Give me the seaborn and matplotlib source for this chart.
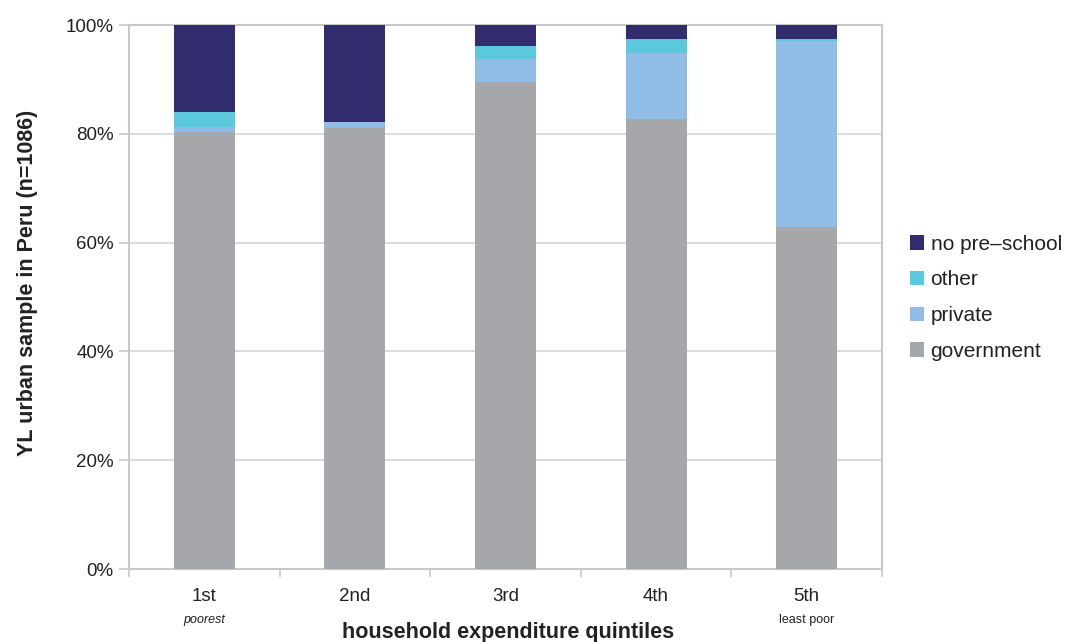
import matplotlib
matplotlib.use("Agg")
import matplotlib.pyplot as plt
import seaborn as sns
import numpy as np
import pandas as pd
from matplotlib.patches import Patch
from matplotlib.ticker import FixedLocator

quintiles = ["1st", "2nd", "3rd", "4th", "5th"]
sublabels = ["poorest", "", "", "", "least poor"]
government = [80.3, 81.0, 89.5, 82.7, 62.8]
private = [0.9, 1.2, 4.2, 12.1, 34.3]
other = [2.8, 0.0, 2.4, 2.6, 0.3]
no_preschool = [16.0, 17.8, 3.9, 2.6, 2.6]

series_names = ["government", "private", "other", "no pre\u2013school"]
colors = {"government": "#a6a7ab", "private": "#8fbde6", "other": "#5bc8dc",
          "no pre\u2013school": "#322c6e"}

sns.set_style("white")
plt.rcParams['font.family'] = ['Liberation Sans', 'DejaVu Sans']

fig = plt.figure(figsize=(10.67, 6.42), dpi=100)
ax = fig.add_axes([129/1067, 1-569/642, (882-129)/1067, (569-25)/642])

vals = [government, private, other, no_preschool]
cum = np.cumsum(np.array(vals), axis=0)
# draw from top layer down so each lower layer covers the upper one
for i in range(len(series_names) - 1, -1, -1):
    df = pd.DataFrame({"q": quintiles, "v": cum[i]})
    sns.barplot(data=df, x="q", y="v", order=quintiles, color=colors[series_names[i]],
                width=0.405, saturation=1, ax=ax, zorder=3, linewidth=0)

ax.set_ylim(0, 100)
ax.set_xlim(-0.5, 4.5)
ax.set_yticks([0, 20, 40, 60, 80, 100])
ax.set_yticklabels([f"{t}%" for t in [0, 20, 40, 60, 80, 100]], fontsize=13.5, color="#222222")
ax.yaxis.grid(True, color="#d4d4d4", linewidth=1.2, zorder=0)
ax.set_axisbelow(True)
for s in ax.spines.values():
    s.set_color("#c8c8c8")
    s.set_linewidth(1.5)
ax.tick_params(axis="y", which="major", length=7, width=1.2, color="#c8c8c8", pad=4, left=True)

ax.set_xticks(range(5))
ax.set_xticklabels(quintiles, fontsize=13.5, color="#222222")
ax.tick_params(axis="x", which="major", length=0, pad=14)
ax.xaxis.set_minor_locator(FixedLocator([0.5, 1.5, 2.5, 3.5, 4.5, -0.5]))
ax.tick_params(axis="x", which="minor", length=6, width=1.2, color="#c8c8c8", bottom=True)

for i, s in enumerate(sublabels):
    if s:
        ax.text(i, -9.3, s, ha="center", va="center", fontsize=9, color="#222222",
                style="italic" if i == 0 else "normal", transform=ax.transData, clip_on=False)

ax.set_xlabel("household expenditure quintiles", fontsize=15.5, fontweight="bold",
              color="#222222", labelpad=0)
ax.xaxis.set_label_coords(0.503, -0.098)
ax.set_ylabel("YL urban sample in Peru (n=1086)", fontsize=15.5, fontweight="bold",
              color="#222222")
ax.yaxis.set_label_coords(-0.121, 0.526)

handles = [Patch(facecolor=colors[n], edgecolor="none") for n in series_names[::-1]]
leg = fig.legend(handles, series_names[::-1], loc="upper left",
                 bbox_to_anchor=(891/1067, 1-216/642), frameon=False, fontsize=15,
                 handlelength=0.7, handleheight=0.7, handletextpad=0.3, labelspacing=0.8)
for t in leg.get_texts():
    t.set_color("#222222")

fig.savefig("out.png", dpi=100)
